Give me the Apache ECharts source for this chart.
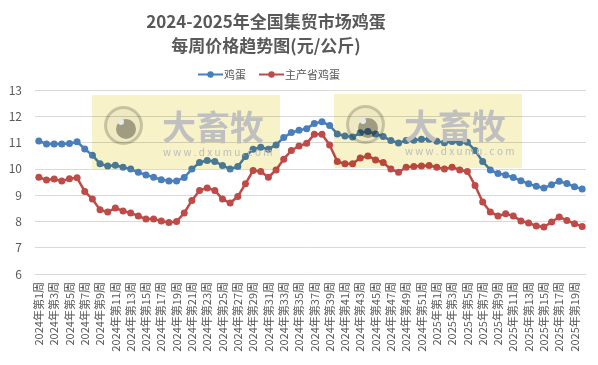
<!DOCTYPE html>
<html>
<head>
<meta charset="utf-8">
<script src="https://cdn.jsdelivr.net/npm/echarts@6/dist/echarts.min.js"></script>
<style>
html,body{margin:0;padding:0;background:#fff;}
#chart{width:598px;height:365px;}
</style>
</head>
<body>
<div id="chart"></div>
<script>
const categories = [
'2024年第1周','2024年第2周','2024年第3周','2024年第4周','2024年第5周','2024年第6周','2024年第7周','2024年第8周','2024年第9周','2024年第10周',
'2024年第11周','2024年第12周','2024年第13周','2024年第14周','2024年第15周','2024年第16周','2024年第17周','2024年第18周','2024年第19周','2024年第20周',
'2024年第21周','2024年第22周','2024年第23周','2024年第24周','2024年第25周','2024年第26周','2024年第27周','2024年第28周','2024年第29周','2024年第30周',
'2024年第31周','2024年第32周','2024年第33周','2024年第34周','2024年第35周','2024年第36周','2024年第37周','2024年第38周','2024年第39周','2024年第40周',
'2024年第41周','2024年第42周','2024年第43周','2024年第44周','2024年第45周','2024年第46周','2024年第47周','2024年第48周','2024年第49周','2024年第50周',
'2024年第51周','2024年第52周',
'2025年第1周','2025年第2周','2025年第3周','2025年第4周','2025年第5周','2025年第6周','2025年第7周','2025年第8周','2025年第9周','2025年第10周',
'2025年第11周','2025年第12周','2025年第13周','2025年第14周','2025年第15周','2025年第16周','2025年第17周','2025年第18周','2025年第19周','2025年第20周'
];
const seriesNames = ['鸡蛋', '主产省鸡蛋'];
const eggPrice = [
11.06,10.95,10.95,10.95,10.96,11.03,10.76,10.52,10.19,10.11,
10.14,10.06,9.99,9.87,9.77,9.68,9.59,9.54,9.54,9.67,
9.99,10.24,10.32,10.28,10.13,9.99,10.09,10.47,10.75,10.82,
10.75,10.91,11.19,11.38,11.47,11.53,11.73,11.79,11.65,11.33,
11.25,11.21,11.37,11.42,11.33,11.23,11.08,10.98,11.08,11.09,
11.13,11.13,11.05,10.99,11.04,11.00,11.01,10.70,10.28,9.96,
9.82,9.77,9.67,9.55,9.43,9.34,9.27,9.40,9.53,9.44,
9.32,9.23
];
const mainProvinceEggPrice = [
9.68,9.58,9.61,9.54,9.62,9.66,9.14,8.85,8.44,8.36,
8.51,8.40,8.32,8.21,8.09,8.09,8.02,7.96,8.00,8.32,
8.80,9.18,9.27,9.18,8.85,8.70,8.95,9.43,9.94,9.90,
9.68,9.96,10.37,10.70,10.87,10.97,11.32,11.32,10.91,10.28,
10.19,10.19,10.41,10.49,10.34,10.24,9.99,9.87,10.06,10.09,
10.11,10.13,10.06,9.99,10.06,9.96,9.90,9.37,8.74,8.36,
8.21,8.29,8.21,8.02,7.94,7.83,7.79,7.98,8.17,8.04,
7.91,7.81
];
const yTicks = {min: 6, max: 13, interval: 1};

const FONT = '"Noto Sans CJK SC", "Noto Sans", sans-serif';

function watermark(dx, dy) {
  const blend = 'multiply';
  return [
    {type: 'rect', z: 100, silent: true, shape: {x: 92 + dx, y: 95 + dy, width: 188, height: 74},
      style: {fill: '#f8f2c8', blend: blend}},
    {type: 'circle', z: 101, silent: true, shape: {cx: 123.5 + dx, cy: 125.5 + dy, r: 18},
      style: {fill: '#f6f6f6', stroke: '#d0d0d0', lineWidth: 3, blend: blend}},
    {type: 'circle', z: 102, silent: true, shape: {cx: 126 + dx, cy: 129 + dy, r: 10},
      style: {fill: '#ababab', blend: blend}},
    {type: 'circle', z: 103, silent: true, shape: {cx: 121 + dx, cy: 122 + dy, r: 3},
      style: {fill: '#e8e8e8'}},
    {type: 'text', z: 102, silent: true, x: 162 + dx, y: 127 + dy,
      style: {text: '大畜牧', font: 'bold 34px ' + FONT, fill: '#c0c0c0', verticalAlign: 'middle', blend: blend}},
    {type: 'text', z: 102, silent: true, x: 163 + dx, y: 152 + dy,
      style: {text: 'w w w . d x u m u . c o m', font: '10px ' + FONT, fill: '#bcbcbc', verticalAlign: 'middle', blend: blend}}
  ];
}

const chart = echarts.init(document.getElementById('chart'), null, {renderer: 'canvas'});
chart.setOption({
  animation: false,
  backgroundColor: '#ffffff',
  title: {
    text: '2024-2025年全国集贸市场鸡蛋\n每周价格趋势图(元/公斤)',
    left: 261, top: 5, textAlign: 'center',
    textStyle: {fontFamily: FONT, fontSize: 17, fontWeight: 'bold', color: '#595959', lineHeight: 24}
  },
  legend: {
    data: seriesNames,
    left: 192, top: 64,
    itemWidth: 25, itemHeight: 8, itemGap: 12,
    textStyle: {fontFamily: FONT, fontSize: 11, color: '#595959', padding: [0,0,0,-4]}
  },
  grid: {left: 35, right: 12, top: 90, bottom: 91, containLabel: false},
  xAxis: {
    type: 'category', data: categories, boundaryGap: true,
    axisLine: {show: true, lineStyle: {color: '#d9d9d9'}},
    axisTick: {show: false},
    axisLabel: {interval: 1, rotate: 90, fontFamily: FONT, fontSize: 11, color: '#595959', margin: 8}
  },
  yAxis: {
    type: 'value', min: yTicks.min, max: yTicks.max, interval: yTicks.interval,
    axisLine: {show: false}, axisTick: {show: false},
    splitLine: {lineStyle: {color: '#d9d9d9', width: 1}},
    axisLabel: {fontFamily: FONT, fontSize: 12, color: '#595959', margin: 13}
  },
  series: [
    {name: seriesNames[0], type: 'line', data: eggPrice, symbol: 'circle', symbolSize: 7, showAllSymbol: true,
      lineStyle: {color: '#4a7ebb', width: 2.5}, itemStyle: {color: '#4a7ebb'}},
    {name: seriesNames[1], type: 'line', data: mainProvinceEggPrice, symbol: 'circle', symbolSize: 7, showAllSymbol: true,
      lineStyle: {color: '#be4b48', width: 2.5}, itemStyle: {color: '#be4b48'}}
  ],
  graphic: watermark(0, 0).concat(watermark(242, -1))
});
</script>
</body>
</html>
